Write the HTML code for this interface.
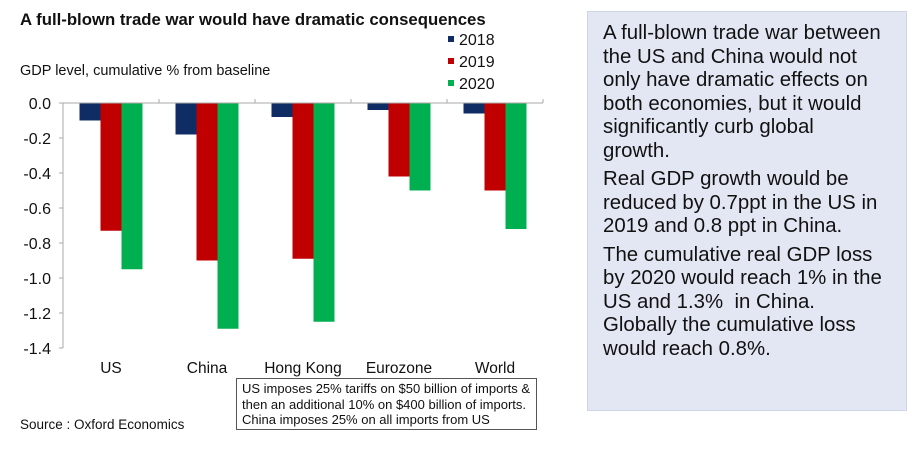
<!DOCTYPE html>
<html><head><meta charset="utf-8">
<style>
body{margin:0;width:912px;height:450px;background:#fff;font-family:"Liberation Sans",Arial,sans-serif;position:relative;overflow:hidden}
.abs{position:absolute}
#panel{left:587px;top:11px;width:320px;height:400px;background:#e3e7f3;border:1px solid #d0d5e6;box-sizing:border-box}
#panel p{margin:0 0 5px 0;font-size:20.4px;line-height:23.5px;color:#111;white-space:nowrap}
</style></head>
<body>
<div class="abs" style="left:20px;top:10px;font-size:16.75px;font-weight:bold;color:#111">A full-blown trade war would have dramatic consequences</div>
<div class="abs" style="left:20px;top:63px;font-size:14.5px;color:#111">GDP level, cumulative % from baseline</div>
<svg class="abs" style="left:0;top:0" width="580" height="450" id="chart"></svg>
<div class="abs" style="left:236px;top:378px;width:301px;height:52px;border:1px solid #555;box-sizing:border-box;padding:2px 5px;font-size:13px;line-height:15.5px;color:#111;white-space:nowrap">US imposes 25% tariffs on $50 billion of imports &amp;<br>then an additional 10% on $400 billion of imports.<br>China imposes 25% on all imports from US</div>
<div class="abs" style="left:20px;top:417px;font-size:13.5px;color:#111">Source : Oxford Economics</div>
<div class="abs" id="panel">
<div style="position:absolute;left:15px;top:10px;width:300px">
<p>A full-blown trade war between<br>the US and China would not<br>only have dramatic effects on<br>both economies, but it would<br>significantly curb global<br>growth.</p>
<p>Real GDP growth would be<br>reduced by 0.7ppt in the US in<br>2019 and 0.8 ppt in China.</p>
<p>The cumulative real GDP loss<br>by 2020 would reach 1% in the<br>US and 1.3%&nbsp; in China.<br>Globally the cumulative loss<br>would reach 0.8%.</p>
</div></div>
<script>
const categories=["US","China","Hong Kong","Eurozone","World"];
const seriesNames=["2018","2019","2020"];
const s2018=[-0.10,-0.18,-0.08,-0.04,-0.06];
const s2019=[-0.73,-0.90,-0.89,-0.42,-0.50];
const s2020=[-0.95,-1.29,-1.25,-0.50,-0.72];
const yTicks=[0.0,-0.2,-0.4,-0.6,-0.8,-1.0,-1.2,-1.4];
const colors=["#0f2c64","#c00000","#00b050"];
const series=[s2018,s2019,s2020];
const NS="http://www.w3.org/2000/svg";
const svg=document.getElementById('chart');
const x0=63,x1=543,yZero=103,pxPerUnit=175,bw=21;
const cw=(x1-x0)/categories.length;
const y=v=>yZero-v*pxPerUnit;
function mk(t,a){const e=document.createElementNS(NS,t);for(const k in a)e.setAttribute(k,a[k]);svg.appendChild(e);return e;}
let ax=mk('line',{x1:x0,y1:y(yTicks[yTicks.length-1]),x2:x0,y2:yZero,stroke:'#aaa','stroke-width':1});


yTicks.forEach(t=>{
 const tk=mk('line',{x1:x0-4,y1:y(t),x2:x0,y2:y(t),stroke:'#aaa'});
 
 
 const l=mk('text',{x:x0-12,y:y(t)+6,'text-anchor':'end','font-size':16,fill:'#111'});
 l.textContent=t.toFixed(1);
 
 
});
categories.forEach((c,i)=>{
 const gx=x0+i*cw+(cw-3*bw)/2;
 series.forEach((s,j)=>{
  const v=s[i];
  const r=mk('rect',{x:gx+j*bw,y:yZero,width:bw,height:y(v)-yZero,fill:colors[j]});
  
  
 });
 const l=mk('text',{x:x0+i*cw+cw/2,y:373,'text-anchor':'middle','font-size':15.5,fill:'#111'});
 l.textContent=c;
 
 
});
let xa=mk('line',{x1:x0,y1:yZero,x2:x1,y2:yZero,stroke:'#aaa'});


for(let i=1;i<=categories.length;i++){
 const tk=mk('line',{x1:x0+i*cw,y1:yZero-4,x2:x0+i*cw,y2:yZero,stroke:'#aaa'});
 
 
}
seriesNames.forEach((n,j)=>{
 const cy=39+j*22;
 const r=mk('rect',{x:448,y:cy-3,width:6,height:6,fill:colors[j]});
 
 
 const t=mk('text',{x:459,y:cy+6,'font-size':16,fill:'#111'});
 t.textContent=n;
 
 
});
</script>
</body></html>
